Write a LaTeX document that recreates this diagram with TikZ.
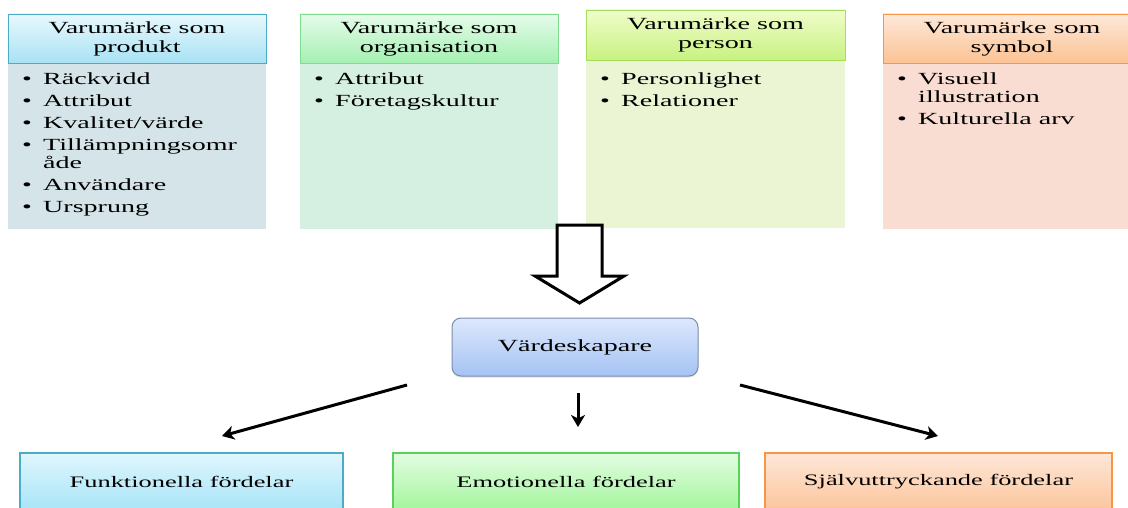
\documentclass[tikz,border=0pt]{standalone}
\usepackage{fontspec}
\setmainfont{Liberation Serif}[FakeStretch=1.65]
\usetikzlibrary{arrows.meta,shadows}
\definecolor{hAt}{HTML}{E8F8FD}\definecolor{hAb}{HTML}{A9E2F4}\definecolor{hAd}{HTML}{4BACC6}\definecolor{bA}{HTML}{D5E4E9}
\definecolor{hBt}{HTML}{E6FBEA}\definecolor{hBb}{HTML}{A4F0B2}\definecolor{hBd}{HTML}{7FDB8F}\definecolor{bB}{HTML}{D5EFE0}
\definecolor{hCt}{HTML}{F0FCCB}\definecolor{hCb}{HTML}{C8F281}\definecolor{hCd}{HTML}{A6DE5C}\definecolor{bC}{HTML}{EBF5D3}
\definecolor{hDt}{HTML}{FDE9DA}\definecolor{hDb}{HTML}{FCC293}\definecolor{hDd}{HTML}{F79646}\definecolor{bD}{HTML}{F9DDD2}
\definecolor{vT}{HTML}{DDE8FC}\definecolor{vB}{HTML}{A5C3F4}\definecolor{vD}{HTML}{7D8DA8}
\definecolor{fAt}{HTML}{E0F6FD}\definecolor{fAb}{HTML}{A6E4F8}
\definecolor{fBt}{HTML}{E2FDE2}\definecolor{fBb}{HTML}{A3F59C}\definecolor{fBd}{HTML}{5AD25A}
\definecolor{fCt}{HTML}{FEE7D8}\definecolor{fCb}{HTML}{FCC59B}
\newcommand\dfs{\fontsize{17pt}{19pt}\selectfont}
\newcommand\ofs{\fontsize{16pt}{19pt}\selectfont}
\newcommand\lfs{\fontsize{17pt}{18pt}\selectfont}
\newcommand\bi{\makebox[21pt][l]{\textbullet}}
\begin{document}
\begin{tikzpicture}[x=1pt,y=-1pt,
  hdr/.style={draw, line width=0.8pt, minimum width=258pt, minimum height=49pt, inner sep=0pt, align=center, font=\dfs,
     drop shadow={shadow xshift=0pt, shadow yshift=-1.5pt, opacity=0.25}},
  bodybox/.style={minimum width=258pt, inner sep=0pt},
  items/.style={anchor=north west, inner sep=0pt, align=left, font=\lfs},
  outbox/.style={draw, line width=1.2pt, minimum height=58pt, inner sep=0pt, font=\ofs},
  conn/.style={line width=3pt, -{Stealth[length=12pt,width=14pt,inset=3.5pt]}}]
\useasboundingbox (0,0) rectangle (1128,508);
\clip (0,0) rectangle (1128,508);
\fill[white] (0,0) rectangle (1128,508);
% bodies
\node[bodybox, fill=bA, minimum height=166pt] (b1) at (137,146) {};
\node[bodybox, fill=bB, minimum height=166pt] (b2) at (429,146) {};
\node[bodybox, fill=bC, minimum height=168pt, minimum width=259pt] (b3) at (715.5,144) {};
\node[bodybox, fill=bD, minimum height=166pt] (b4) at (1012,146) {};
% headers
\node[hdr, draw=hAd, top color=hAt, bottom color=hAb] (h1) at (137,38.5) {Varumärke som\\produkt};
\node[hdr, draw=hBd, top color=hBt, bottom color=hBb] (h2) at (429,38.5) {Varumärke som\\organisation};
\node[hdr, draw=hCd, top color=hCt, bottom color=hCb, minimum width=259pt, minimum height=50pt] (h3) at (715.5,35) {Varumärke som\\person};
\node[hdr, draw=hDd, top color=hDt, bottom color=hDb] (h4) at (1012,38.5) {Varumärke som\\symbol};
% items
\node[items] (t1) at (22,73) {\bi Räckvidd\\[4pt]\bi Attribut\\[4pt]\bi Kvalitet/värde\\[4pt]\bi Tillämpningsomr\\\hspace*{21pt}åde\\[4pt]\bi Användare\\[4pt]\bi Ursprung};
\node[items] (t2) at (314,73) {\bi Attribut\\[4pt]\bi Företagskultur};
\node[items] (t3) at (600,73) {\bi Personlighet\\[4pt]\bi Relationer};
\node[items] (t4) at (897,73) {\bi Visuell\\\hspace*{21pt}illustration\\[4pt]\bi Kulturella arv};
% hollow arrow
\draw[line width=3pt, fill=white, line join=miter] (557,225) -- (557,276) -- (535,276) -- (579.5,303) -- (624,276) -- (602,276) -- (602,225) -- cycle;
% centre
\node[draw=vD, line width=1pt, rounded corners=9pt, top color=vT, bottom color=vB, minimum width=246pt, minimum height=58pt, inner sep=0pt, font=\dfs,
  drop shadow={shadow xshift=0pt, shadow yshift=-1.5pt, opacity=0.25}] (v) at (575,347) {Värdeskapare};
% outputs
\node[outbox, draw=hAd, top color=fAt, bottom color=fAb, minimum width=323pt] (o1) at (181.5,482) {Funktionella fördelar};
\node[outbox, draw=fBd, top color=fBt, bottom color=fBb, minimum width=346pt] (o2) at (566,482) {Emotionella fördelar};
\node[outbox, draw=hDd, top color=fCt, bottom color=fCb, minimum width=347pt] (o3) at (938.5,482) {Självuttryckande fördelar};
% connectors
\coordinate (a1s) at (407,385); \coordinate (a1e) at (222,436);
\coordinate (a2s) at (578,393); \coordinate (a2e) at (578,427);
\coordinate (a3s) at (740,385); \coordinate (a3e) at (938,436);
\draw[conn] (a1s) -- (a1e);
\draw[conn] (a2s) -- (a2e);
\draw[conn] (a3s) -- (a3e);
\end{tikzpicture}
\end{document}
